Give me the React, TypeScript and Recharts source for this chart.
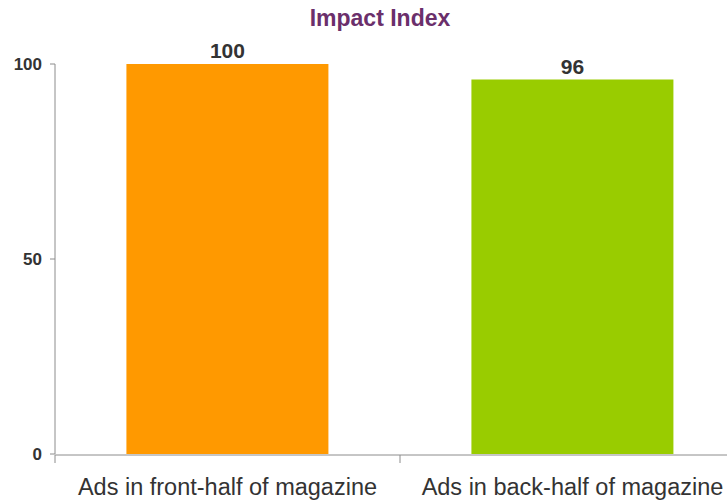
import React from 'react';
import { BarChart, Bar, XAxis, YAxis, Cell, LabelList } from 'recharts';

const categories = ['Ads in front-half of magazine', 'Ads in back-half of magazine'];
const impactValues = [100, 96];
const barColors = ['#FF9900', '#99CC00'];
const yTicks = [0, 50, 100];
const edgeTicks = [0, 1, 2];

const data = categories.map((name, i) => ({ name, value: impactValues[i], edge: i }));

const App: React.FC = () => {
  return (
    <div style={{ position: 'fixed', left: 0, top: 0, width: 727, height: 501, overflow: 'hidden', background: '#fff', fontFamily: '"Liberation Sans", Arial, sans-serif' }}>
      <div style={{ position: 'absolute', left: 0, width: 760, top: 5, textAlign: 'center', fontSize: 23, fontWeight: 'bold', color: '#6B2F6B' }}>
        Impact Index
      </div>
      <BarChart
        width={745}
        height={501}
        data={data}
        margin={{ top: 64, right: 0, bottom: 0, left: 0 }}
        barCategoryGap="20.7%"
      >
        {/* category labels, no line */}
        <XAxis
          xAxisId="cat"
          dataKey="name"
          height={1}
          axisLine={false}
          tickLine={false}
          tickMargin={18}
          tick={{ fontSize: 23.5, fill: '#333333', fontFamily: '"Liberation Sans", Arial, sans-serif' }}
        />
        {/* axis line with ticks at the category edges */}
        <XAxis
          xAxisId="edges"
          type="number"
          dataKey="edge"
          domain={[0, 2]}
          ticks={edgeTicks}
          interval={0}
          height={46}
          tickFormatter={() => ''}
          tickSize={8}
          axisLine={{ stroke: '#8c8c8c' }}
          tickLine={{ stroke: '#8c8c8c' }}
          allowDataOverflow
        />
        <YAxis
          width={55}
          domain={[0, 100]}
          ticks={yTicks}
          tickSize={5}
          tickMargin={8}
          axisLine={{ stroke: '#8c8c8c' }}
          tickLine={{ stroke: '#8c8c8c' }}
          tick={{ fontSize: 17, fontWeight: 'bold', fill: '#333333', fontFamily: '"Liberation Sans", Arial, sans-serif' }}
        />
        <Bar dataKey="value" xAxisId="cat" isAnimationActive={false}>
          {data.map((d, i) => (
            <Cell key={d.name} fill={barColors[i]} />
          ))}
          <LabelList
            dataKey="value"
            position="top"
            offset={6}
            style={{ fontSize: 21, fontWeight: 'bold', fill: '#333333', fontFamily: '"Liberation Sans", Arial, sans-serif' }}
          />
        </Bar>
      </BarChart>
    </div>
  );
};

export default App;
